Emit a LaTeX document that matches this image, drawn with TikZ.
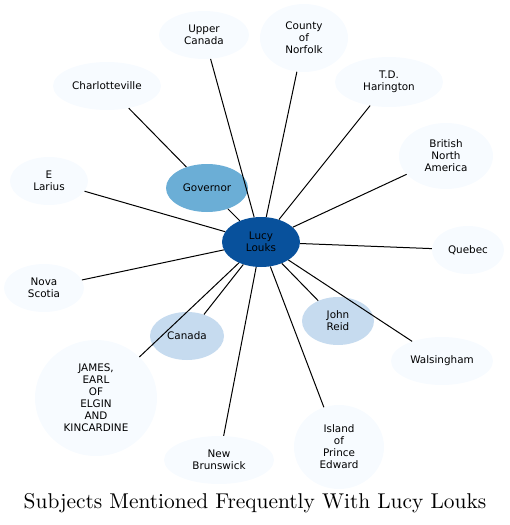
\documentclass[tikz,border=0pt]{standalone}
\usepackage{fontspec}
\newfontfamily\nodefont{DejaVu Sans}
\newfontfamily\titlefont{lmroman10-regular}[Extension=.otf]
\usetikzlibrary{shapes.geometric}
\definecolor{cdark}{HTML}{08519C}
\definecolor{cmid}{HTML}{6BAED6}
\definecolor{clight}{HTML}{C6DBEF}
\definecolor{cpale}{HTML}{F7FBFF}
\tikzset{
  bub/.style={ellipse, inner sep=0pt, align=center, fill=cpale,
    font=\nodefont\fontsize{10.4}{12}\selectfont, text=black},
  sz/.style 2 args={minimum width=#1pt, minimum height=#2pt},
  edge/.style={draw=black, line width=1pt},
}
\begin{document}
\begin{tikzpicture}[x=1pt,y=-1pt]
\useasboundingbox (0,0) rectangle (510,525);
\node[bub, sz={90}{48}] (upper) at (204,35) {Upper\\Canada};
\node[bub, sz={88}{68}] (norfolk) at (304,38) {County\\of\\Norfolk};
\node[bub, sz={108}{50}] (harington) at (389,82) {T.D.\\Harington};
\node[bub, sz={108}{48}] (charlotte) at (107,86) {Charlotteville};
\node[bub, sz={94}{66}] (bna) at (446,156) {British\\North\\America};
\node[bub, sz={78}{48}] (elarius) at (49,181) {E\\Larius};
\node[bub, sz={72}{48}] (quebec) at (468,250) {Quebec};
\node[bub, sz={80}{48}] (nova) at (44,288) {Nova\\Scotia};
\node[bub, sz={102}{48}] (walsingham) at (442,361) {Walsingham};
\node[bub, sz={122}{116}] (james) at (96,398) {JAMES,\\EARL\\OF\\ELGIN\\AND\\KINCARDINE};
\node[bub, sz={110}{48}] (newb) at (219,460) {New\\Brunswick};
\node[bub, sz={90}{84}] (island) at (339,447) {Island\\of\\Prince\\Edward};
\node[bub, sz={82}{48}, fill=cmid] (governor) at (207,188) {Governor};
\node[bub, sz={74}{48}, fill=clight] (canada) at (187,336) {Canada};
\node[bub, sz={72}{48}, fill=clight] (johnreid) at (338,321) {John\\Reid};
\node[bub, sz={78}{50}, fill=cdark] (lucy) at (261,242) {Lucy\\Louks};
\foreach \t in {upper,norfolk,harington,bna,elarius,quebec,nova,walsingham,james,newb,island,governor,canada,johnreid}
  \draw[edge] (lucy) -- (\t);
\draw[edge] (governor) -- (charlotte);
\node[font=\titlefont\fontsize{21.4}{24}\selectfont] (title) at (255,503) {Subjects Mentioned Frequently With Lucy Louks};
\end{tikzpicture}
\end{document}
